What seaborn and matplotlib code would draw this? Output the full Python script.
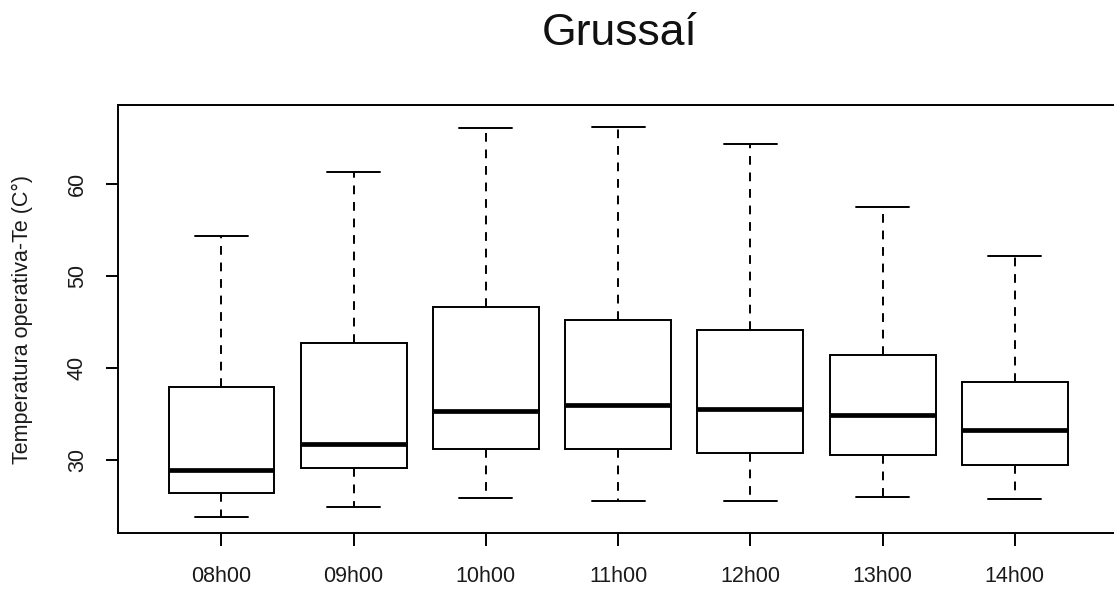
import numpy as np
import pandas as pd
import matplotlib
matplotlib.use("Agg")
import matplotlib.pyplot as plt
import seaborn as sns

# Operative temperature summary per hour of day (°C)
horas = ["08h00", "09h00", "10h00", "11h00", "12h00", "13h00", "14h00"]
minimo = [23.8, 24.9, 25.8, 25.5, 25.5, 26.0, 25.7]
q1 = [26.4, 29.1, 31.2, 31.2, 30.7, 30.5, 29.4]
mediana = [28.9, 31.7, 35.3, 36.0, 35.5, 34.9, 33.2]
q3 = [37.9, 42.7, 46.6, 45.2, 44.1, 41.4, 38.5]
maximo = [54.4, 61.3, 66.1, 66.2, 64.4, 57.5, 52.2]

# Five values per hour reproduce the quartiles exactly (linear percentiles)
rows = []
for h, a, b, c, d, e in zip(horas, minimo, q1, mediana, q3, maximo):
    for v in (a, b, c, d, e):
        rows.append({"hora": h, "te": v})
df = pd.DataFrame(rows)

sns.set_theme(style="white")
plt.rcParams["font.family"] = ["Liberation Sans", "DejaVu Sans"]

W, H = 1114, 590
fig = plt.figure(figsize=(W / 100, H / 100), dpi=100)
left, right, top, bottom = 118.3, 1118.0, 105.0, 533.3
ax = fig.add_axes([left / W, 1 - bottom / H, (right - left) / W, (bottom - top) / H])

lw = 1.4
sns.boxplot(
    data=df, x="hora", y="te", order=horas, ax=ax,
    color="white", linecolor="black", linewidth=lw, width=0.8,
    whis=(0, 100), showfliers=False,
    medianprops=dict(linewidth=3.4, color="black", solid_capstyle="butt"),
    whiskerprops=dict(linestyle=(0, (4.5, 4)), linewidth=lw, color="black"),
    capprops=dict(linewidth=lw, color="black"),
    boxprops=dict(linewidth=lw, edgecolor="black", facecolor="white"),
)

ax.set_xlim(-0.78, 6.78)
ax.set_ylim(22.0, 68.6)
ax.set_yticks([30, 40, 50, 60])
ax.set_xlabel("")
ax.set_ylabel("Temperatura operativa-Te (C°)", fontsize=15.5, color="#1a1a1a",
              va="center", ha="center")
ax.yaxis.set_label_coords((22 - left) / (right - left), 0.5)

for s in ax.spines.values():
    s.set_visible(True)
    s.set_color("black")
    s.set_linewidth(lw)

ax.tick_params(axis="both", which="major", length=9, width=lw, color="black",
               labelsize=15.5, labelcolor="#1a1a1a", direction="out",
               left=True, bottom=True)
ax.tick_params(axis="x", pad=14.5)
ax.tick_params(axis="y", pad=13)
for t in ax.get_yticklabels():
    t.set_rotation(90)
    t.set_va("center")

fig.text(620 / W, 1 - 45 / H, "Grussaí", ha="center", va="baseline",
         fontsize=32, color="#111111")

fig.savefig("out.png", dpi=100, facecolor="white")
